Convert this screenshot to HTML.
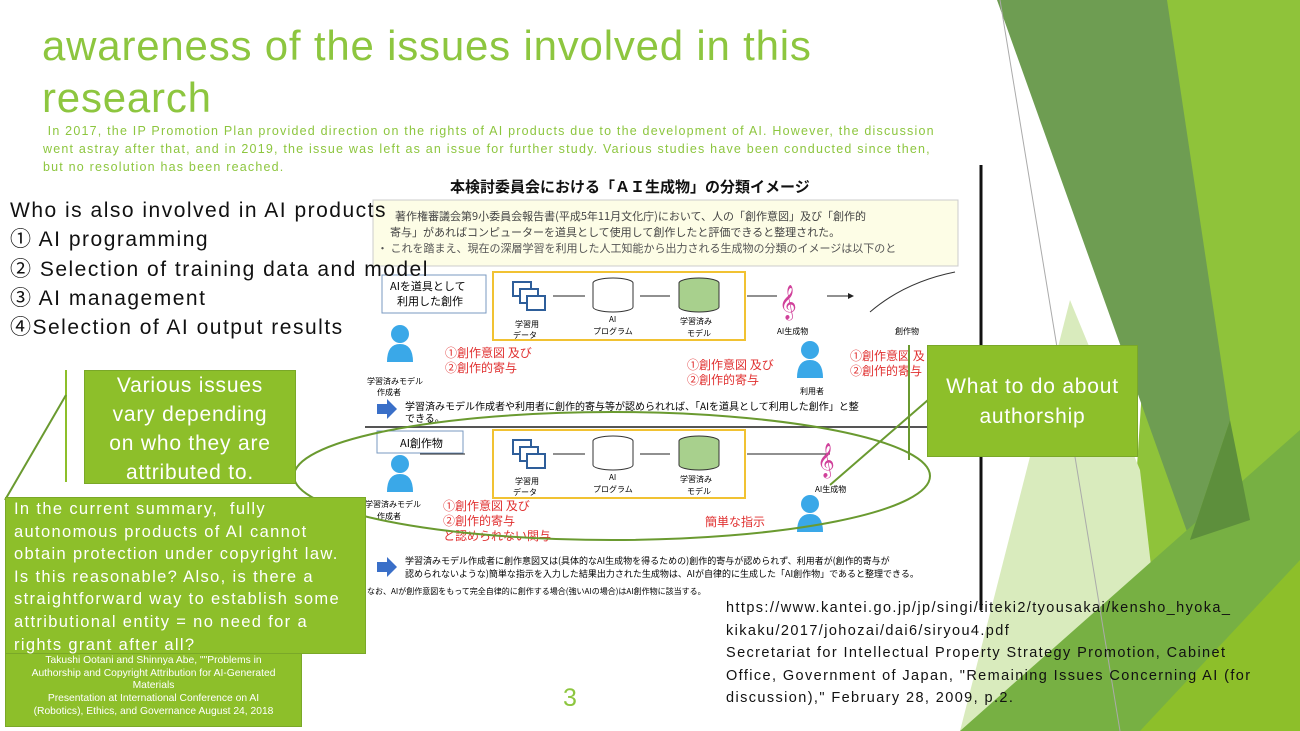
<!DOCTYPE html>
<html><head><meta charset="utf-8"><style>
body{margin:0;width:1300px;height:731px;overflow:hidden;background:#fff;position:relative;font-family:"Liberation Sans","Noto Sans CJK JP",sans-serif}
.a{position:absolute;white-space:nowrap}
.g{background:#8dbf2a;color:#fff;border:1px solid #7aa828;box-sizing:border-box}
.jp{font-family:"Noto Sans CJK JP",sans-serif}
</style></head><body>
<svg class="a" style="left:0;top:0" width="1300" height="731">
<polygon points="1167,0 1300,0 1300,731 1120,731" fill="#8fc33a"/>
<polygon points="997,0 1167,0 1230,420 1190,540" fill="#6e9d52"/>
<polygon points="1070,300 1140,470 1170,731 960,731" fill="#d9ebbd"/>
<polygon points="960,731 1300,430 1300,731" fill="#77b043"/>
<polygon points="1140,731 1300,560 1300,731" fill="#8dbf2a"/>
<polygon points="1190,540 1230,420 1250,520" fill="#5d8f3c"/>
<line x1="1000" y1="0" x2="1120" y2="731" stroke="#aaa" stroke-width="1"/>
<line x1="981" y1="165" x2="981" y2="610" stroke="#111" stroke-width="3"/>
<line x1="66" y1="370" x2="66" y2="482" stroke="#8dbf2a" stroke-width="2"/>
</svg>
<div class="a" style="left:42px;top:20px;font-size:42px;line-height:52px;letter-spacing:0.8px;color:#8dc63f">awareness of the issues involved in this<br>research</div>
<div class="a" style="left:43px;top:122px;font-size:12.5px;line-height:18px;letter-spacing:1.2px;color:#8dc63f">&nbsp;In 2017, the IP Promotion Plan provided direction on the rights of AI products due to the development of AI. However, the discussion<br>went astray after that, and in 2019, the issue was left as an issue for further study. Various studies have been conducted since then,<br>but no resolution has been reached.</div>
<!-- diagram -->
<svg class="a jp" style="left:365px;top:172px" width="615" height="430" font-family="Noto Sans CJK JP,sans-serif">
<text x="85" y="20" font-size="15" font-weight="bold" fill="#111">本検討委員会における「ＡＩ生成物」の分類イメージ</text>
<rect x="8" y="28" width="585" height="66" fill="#fdfde6" stroke="#ccc"/>
<text x="30" y="48" font-size="11" fill="#444">著作権審議会第9小委員会報告書(平成5年11月文化庁)において、人の「創作意図」及び「創作的</text>
<text x="25" y="64" font-size="11" fill="#444">寄与」があればコンピューターを道具として使用して創作したと評価できると整理された。</text>
<text x="12" y="80" font-size="11" fill="#555">・ これを踏まえ、現在の深層学習を利用した人工知能から出力される生成物の分類のイメージは以下のと</text>
<rect x="17" y="103" width="104" height="38" fill="#fff" stroke="#7a9ac0"/>
<text x="25" y="118" font-size="11">AIを道具として</text><text x="32" y="133" font-size="11">利用した創作</text>
<rect x="128" y="100" width="252" height="68" fill="none" stroke="#f1c232" stroke-width="2"/>
<rect x="148" y="110" width="18" height="14" fill="#fff" stroke="#2e5e9a" stroke-width="2"/><rect x="155" y="117" width="18" height="14" fill="#fff" stroke="#2e5e9a" stroke-width="2"/><rect x="162" y="124" width="18" height="14" fill="#fff" stroke="#2e5e9a" stroke-width="2"/>
<rect x="228" y="106" width="40" height="34" rx="20" ry="5" fill="#fff" stroke="#333"/>
<rect x="314" y="106" width="40" height="34" rx="20" ry="5" fill="#a8d08d" stroke="#333"/>
<text x="150" y="155" font-size="8">学習用</text><text x="148" y="166" font-size="8">データ</text>
<text x="244" y="150" font-size="8">AI</text><text x="228" y="162" font-size="8">プログラム</text>
<text x="315" y="152" font-size="8">学習済み</text><text x="322" y="164" font-size="8">モデル</text>
<path d="M188,124H220M275,124H305M382,124H412M462,124H488" stroke="#222" marker-end="url(#m)"/>
<text x="414" y="140" font-size="30" fill="#d0409a">𝄞</text>
<text x="412" y="162" font-size="8">AI生成物</text>
<path d="M505,140 Q540,110 590,100" stroke="#333" fill="none"/>
<text x="530" y="162" font-size="8">創作物</text>
<text x="80" y="185" font-size="12" fill="#e03030">①創作意図 及び</text><text x="80" y="200" font-size="12" fill="#e03030">②創作的寄与</text>
<text x="322" y="197" font-size="12" fill="#e03030">①創作意図 及び</text><text x="322" y="212" font-size="12" fill="#e03030">②創作的寄与</text>
<text x="485" y="188" font-size="12" fill="#e03030">①創作意図 及</text><text x="485" y="203" font-size="12" fill="#e03030">②創作的寄与</text>
<circle cx="35" cy="162" r="9" fill="#3aa8e8"/><path d="M22,190 Q22,172 35,172 Q48,172 48,190Z" fill="#3aa8e8"/>
<circle cx="445" cy="178" r="9" fill="#3aa8e8"/><path d="M432,206 Q432,188 445,188 Q458,188 458,206Z" fill="#3aa8e8"/>
<text x="2" y="212" font-size="8">学習済みモデル</text><text x="12" y="223" font-size="8">作成者</text>
<text x="435" y="222" font-size="8">利用者</text>
<path d="M12,232h10v-5l10,10l-10,10v-5h-10z" fill="#3a6fc8"/>
<text x="40" y="238" font-size="10">学習済みモデル作成者や利用者に創作的寄与等が認められれば、「AIを道具として利用した創作」と整</text>
<text x="40" y="250" font-size="10">できる。</text>
<line x1="0" y1="255" x2="615" y2="255" stroke="#555" stroke-width="2"/>
<rect x="12" y="259" width="86" height="22" fill="#fff" stroke="#7a9ac0"/><text x="35" y="275" font-size="11">AI創作物</text>
<rect x="128" y="258" width="252" height="68" fill="none" stroke="#f1c232" stroke-width="2"/>
<rect x="148" y="268" width="18" height="14" fill="#fff" stroke="#2e5e9a" stroke-width="2"/><rect x="155" y="275" width="18" height="14" fill="#fff" stroke="#2e5e9a" stroke-width="2"/><rect x="162" y="282" width="18" height="14" fill="#fff" stroke="#2e5e9a" stroke-width="2"/>
<rect x="228" y="264" width="40" height="34" rx="20" ry="5" fill="#fff" stroke="#333"/>
<rect x="314" y="264" width="40" height="34" rx="20" ry="5" fill="#a8d08d" stroke="#333"/>
<text x="150" y="312" font-size="8">学習用</text><text x="148" y="323" font-size="8">データ</text>
<text x="244" y="308" font-size="8">AI</text><text x="228" y="320" font-size="8">プログラム</text>
<text x="315" y="310" font-size="8">学習済み</text><text x="322" y="322" font-size="8">モデル</text>
<path d="M55,282H100M188,282H220M275,282H305M382,282H465" stroke="#222"/>
<text x="452" y="298" font-size="30" fill="#d0409a">𝄞</text><text x="450" y="320" font-size="8">AI生成物</text>
<circle cx="35" cy="292" r="9" fill="#3aa8e8"/><path d="M22,320 Q22,302 35,302 Q48,302 48,320Z" fill="#3aa8e8"/>
<circle cx="445" cy="332" r="9" fill="#3aa8e8"/><path d="M432,360 Q432,342 445,342 Q458,342 458,360Z" fill="#3aa8e8"/>
<text x="0" y="335" font-size="8">学習済みモデル</text><text x="12" y="347" font-size="8">作成者</text>
<text x="78" y="338" font-size="12" fill="#e03030">①創作意図 及び</text><text x="78" y="353" font-size="12" fill="#e03030">②創作的寄与</text><text x="78" y="368" font-size="12" fill="#e03030">と認められない関与</text>
<text x="340" y="354" font-size="12" fill="#e03030">簡単な指示</text>
<path d="M12,390h10v-5l10,10l-10,10v-5h-10z" fill="#3a6fc8"/>
<text x="40" y="392" font-size="9">学習済みモデル作成者に創作意図又は(具体的なAI生成物を得るための)創作的寄与が認められず、利用者が(創作的寄与が</text>
<text x="40" y="405" font-size="9">認められないような)簡単な指示を入力した結果出力された生成物は、AIが自律的に生成した「AI創作物」であると整理できる。</text>
<text x="2" y="422" font-size="8">なお、AIが創作意図をもって完全自律的に創作する場合(強いAIの場合)はAI創作物に該当する。</text>
<defs><marker id="m" markerWidth="6" markerHeight="6" refX="5" refY="3" orient="auto"><path d="M0,0L6,3L0,6z" fill="#222"/></marker></defs>
</svg>
<svg class="a" style="left:0;top:0" width="1300" height="731">
<ellipse cx="612" cy="476" rx="318" ry="64" fill="none" stroke="#6a9a30" stroke-width="2"/>
<line x1="830" y1="485" x2="928" y2="400" stroke="#6a9a30" stroke-width="2"/>
<line x1="909" y1="345" x2="909" y2="460" stroke="#6a9a30" stroke-width="2"/>
<line x1="5" y1="500" x2="66" y2="395" stroke="#6a9a30" stroke-width="2"/>
</svg>
<div class="a" style="left:10px;top:196px;font-size:21px;line-height:29.3px;letter-spacing:1.5px;color:#111">Who is also involved in AI products<br>① AI programming<br>② Selection of training data and model<br>③ AI management<br>④Selection of AI output results</div>
<div class="a g" style="left:84px;top:370px;width:212px;height:114px;font-size:21px;line-height:29px;letter-spacing:0.8px;text-align:center">Various issues<br>vary depending<br>on who they are<br>attributed to.</div>
<div class="a g" style="left:927px;top:345px;width:211px;height:112px;font-size:21px;line-height:30px;letter-spacing:0.8px;text-align:center;padding-top:26px">What to do about<br>authorship</div>
<div class="a g" style="left:5px;top:653px;width:297px;height:74px;font-size:10.3px;line-height:12.7px;text-align:center;padding-top:1px">Takushi Ootani and Shinnya Abe, ""Problems in<br>Authorship and Copyright Attribution for AI-Generated<br>Materials<br>Presentation at International Conference on AI<br>(Robotics), Ethics, and Governance August 24, 2018</div>
<div class="a g" style="left:5px;top:497px;width:361px;height:157px;font-size:16.5px;line-height:22.6px;letter-spacing:1.35px;padding:0 8px">In the current summary,&nbsp; fully<br>autonomous products of AI cannot<br>obtain protection under copyright law.<br>Is this reasonable? Also, is there a<br>straightforward way to establish some<br>attributional entity = no need for a<br>rights grant after all?</div>
<div class="a" style="left:563px;top:684px;font-size:25px;color:#8dc63f">3</div>
<div class="a" style="left:726px;top:597px;font-size:14.5px;line-height:22.5px;letter-spacing:1.4px;color:#111">https://www.kantei.go.jp/jp/singi/titeki2/tyousakai/kensho_hyoka_<br>kikaku/2017/johozai/dai6/siryou4.pdf<br>Secretariat for Intellectual Property Strategy Promotion, Cabinet<br>Office, Government of Japan, "Remaining Issues Concerning AI (for<br>discussion)," February 28, 2009, p.2.</div>
</body></html>
